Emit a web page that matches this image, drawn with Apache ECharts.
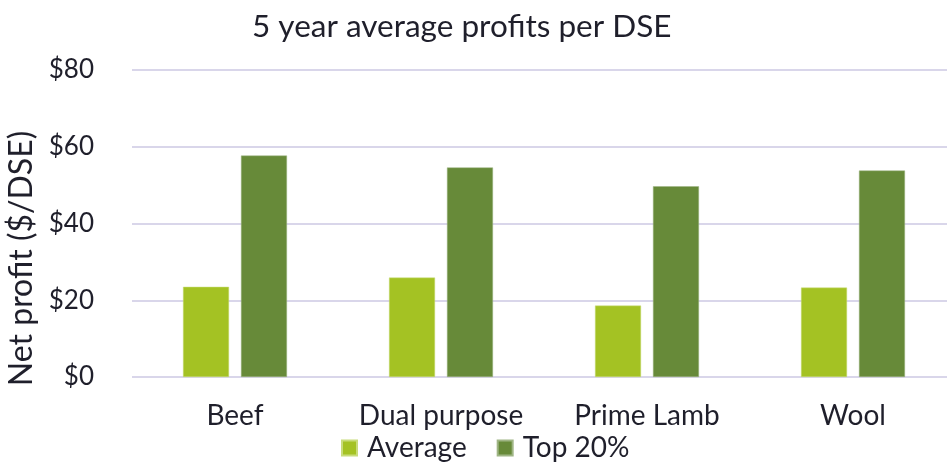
<!DOCTYPE html>
<html>
<head>
<meta charset="utf-8">
<script src="https://cdn.jsdelivr.net/npm/echarts@6/dist/echarts.min.js"></script>
<style>
  html, body { margin: 0; padding: 0; background: #fff; }
  #chart { width: 947px; height: 462px; }
</style>
</head>
<body>
<div id="chart"></div>
<script>
const categories = ["Beef", "Dual purpose", "Prime Lamb", "Wool"];
const averageValues = [23.5, 25.9, 18.6, 23.3];
const top20Values = [57.7, 54.6, 49.7, 53.8];
const seriesNames = ["Average", "Top 20%"];

const chart = echarts.init(document.getElementById("chart"));
const font = "Lato, 'Open Sans', sans-serif";
const textColor = "#1f1f2b";

chart.setOption({
  animation: false,
  textStyle: { fontFamily: font },
  title: {
    text: "5 year average profits per DSE",
    left: 247,
    top: 6,
    textStyle: { fontSize: 31.5, fontWeight: "normal", color: textColor, fontFamily: font },
  },
  legend: {
    data: seriesNames,
    top: 434,
    left: 341,
    padding: 0,
    itemWidth: 15,
    itemHeight: 15,
    itemGap: 30,
    icon: "rect",
    textStyle: { fontSize: 28, color: textColor, fontFamily: font, padding: [0, 0, 0, 5] },
  },
  grid: {
    left: 132,
    right: -9,
    top: 70,
    bottom: 85,
    outerBoundsMode: "none",
    containLabel: false,
  },
  xAxis: {
    type: "category",
    data: categories,
    axisLine: { show: false },
    axisTick: { show: false },
    axisLabel: { fontSize: 28, color: textColor, margin: 25, interval: 0, fontFamily: font },
  },
  yAxis: {
    type: "value",
    min: 0,
    max: 80,
    interval: 20,
    name: "Net profit ($/DSE)",
    nameLocation: "middle",
    nameGap: 94,
    nameTextStyle: { fontSize: 32, color: textColor, fontFamily: font, padding: [0, 70, 0, 0] },
    axisLine: { show: false },
    axisTick: { show: false },
    axisLabel: {
      fontSize: 26,
      color: textColor,
      margin: 38,
      fontFamily: font,
      formatter: (v) => "$" + v,
    },
    splitLine: { lineStyle: { color: "#d9d6ea", width: 2 } },
  },
  series: [
    {
      name: seriesNames[0],
      type: "bar",
      data: averageValues,
      barWidth: 46,
      barGap: "26%",
      itemStyle: { color: "#a4c223", borderColor: "#c8dc7a", borderWidth: 0.5 },
    },
    {
      name: seriesNames[1],
      type: "bar",
      data: top20Values,
      barWidth: 46,
      barGap: "26%",
      itemStyle: { color: "#678a39", borderColor: "#9fb585", borderWidth: 0.5 },
    },
  ],
});
</script>
</body>
</html>
